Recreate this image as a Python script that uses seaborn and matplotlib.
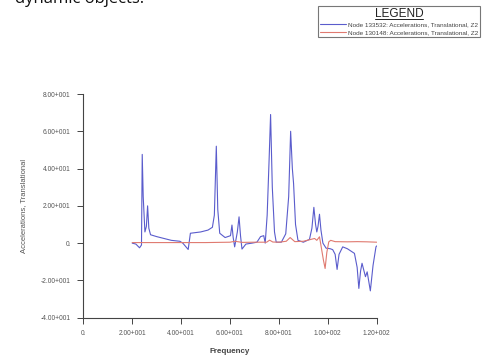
import matplotlib
matplotlib.use("Agg")
import matplotlib.pyplot as plt
import seaborn as sns
import pandas as pd
from matplotlib.lines import Line2D

# ---- data ----
blue_freq = [20, 21.5, 23, 23.8, 24.1, 24.5, 25.2, 25.8, 26.3, 26.8, 27.5, 30, 33, 36, 39.5,
             40.7, 42.9, 43.8, 45, 48, 51, 52.8, 53.6, 54.4, 55.0, 55.8, 58, 60.2, 60.8, 61.3,
             61.9, 63.0, 63.7, 64.3, 64.9, 66.5, 69, 71, 72.5, 73.8, 74.4, 75.2, 76.0, 76.6,
             77.3, 78.2, 78.9, 81, 82.8, 84.0, 84.8, 85.5, 86.0, 86.8, 87.8, 90, 92.5, 93.5,
             94.3, 95.0, 95.5, 96.0, 96.6, 97.2, 98, 99.3, 101, 102, 103.0, 103.8, 104.6, 106.1,
             108, 110.9, 112.0, 112.7, 113.4, 114, 115.4, 116.1, 117.4, 118.5, 119.7, 120]
blue_vals = [0.0, -0.05, -0.25, -0.1, 4.76, 2.5, 0.6, 0.9, 2.0, 0.8, 0.45, 0.35, 0.25, 0.15, 0.1,
             0.0, -0.34, 0.53, 0.55, 0.6, 0.7, 0.85, 1.5, 5.2, 1.8, 0.53, 0.3, 0.4, 0.97, 0.3,
             -0.2, 0.6, 1.41, 0.4, -0.32, -0.05, 0.0, 0.05, 0.35, 0.4, 0.0, 1.5, 4.5, 6.9,
             3.0, 0.6, 0.05, 0.05, 0.5, 2.5, 6.0, 4.0, 3.2, 1.0, 0.15, 0.05, 0.2, 0.8,
             1.92, 1.0, 0.6, 0.9, 1.55, 0.7, 0.0, -0.27, -0.3, -0.35, -0.6, -1.41, -0.6, -0.2,
             -0.3, -0.55, -1.3, -2.43, -1.5, -1.08, -1.8, -1.54, -2.56, -1.2, -0.2, -0.15]

red_freq = [20, 25, 30, 40, 50, 60, 62, 65, 70, 75, 76.2, 77.5, 80, 83, 84.6, 86.5, 90, 94.6,
            95.5, 96.6, 97.3, 98.2, 98.9, 99.6, 100.4, 101.2, 103, 108, 112, 116, 120]
red_vals = [0.03, 0.03, 0.03, 0.03, 0.03, 0.05, 0.1, 0.04, 0.05, 0.05, 0.16, 0.06, 0.05, 0.1,
            0.3, 0.08, 0.1, 0.25, 0.15, 0.34, -0.2, -0.9, -1.36, -0.5, 0.07, 0.15, 0.08, 0.07,
            0.08, 0.07, 0.05]

series_names = ["Node 133532: Accelerations, Translational, Z2",
                "Node 130148: Accelerations, Translational, Z2"]
x_ticks = [0, 20, 40, 60, 80, 100, 120]
x_tick_labels = ["0.", "2.00+001", "4.00+001", "6.00+001", "8.00+001", "1.00+002", "1.20+002"]
y_ticks = [-4, -2, 0, 2, 4, 6, 8]
y_tick_labels = ["-4.00+001", "-2.00+001", "0.", "2.00+001", "4.00+001", "6.00+001", "8.00+001"]

df = pd.concat([
    pd.DataFrame({"Frequency": blue_freq, "Value": blue_vals, "Series": series_names[0]}),
    pd.DataFrame({"Frequency": red_freq, "Value": red_vals, "Series": series_names[1]}),
])

sns.set_style("white")
plt.rcParams["font.family"] = ["Liberation Sans", "DejaVu Sans"]

fig = plt.figure(figsize=(4.92, 3.56), dpi=100)
ax = fig.add_axes([83.3 / 492, 1 - 317.7 / 356, (376.7 - 83.3) / 492, (317.7 - 94) / 356])

palette = {series_names[0]: "#5a5ccc", series_names[1]: "#e07a70"}
sns.lineplot(data=df, x="Frequency", y="Value", hue="Series", palette=palette,
             sort=False, estimator=None, linewidth=0.8, ax=ax, legend=False)

ax.set_xlim(0, 120)
ax.set_ylim(-4, 8)
ax.set_xticks(x_ticks)
ax.set_xticklabels(x_tick_labels)
ax.set_yticks(y_ticks)
ax.set_yticklabels(y_tick_labels)
for s in ["top", "right"]:
    ax.spines[s].set_visible(False)
for s in ["left", "bottom"]:
    ax.spines[s].set_color("#444444")
    ax.spines[s].set_linewidth(0.8)
ax.tick_params(axis="both", which="major", direction="out", length=4, width=0.7,
               color="#444444", labelsize=4.8, labelcolor="#555555", pad=5,
               left=True, bottom=True)
ax.set_xlabel("Frequency", fontsize=5.8, fontweight="bold", color="#444444", labelpad=8)
ax.set_ylabel("Accelerations, Translational", fontsize=5.5, color="#555555", labelpad=10)

# legend
handles = [Line2D([0], [0], color=palette[n], lw=0.8) for n in series_names]
leg = fig.legend(handles, series_names, loc="upper right",
                 bbox_to_anchor=(480 / 492, 1 - 6 / 356), fontsize=4.6,
                 title="LEGEND", title_fontsize=8.5, frameon=True, fancybox=False,
                 edgecolor="#555555", handlelength=4.0, handletextpad=0.3,
                 borderpad=0.35, labelspacing=0.3, borderaxespad=0)
leg.get_frame().set_linewidth(0.8)
leg.get_title().set_color("#222222")
for t in leg.get_texts():
    t.set_color("#444444")

# underline the legend title using its rendered extent
fig.canvas.draw()
bb = leg.get_title().get_window_extent().transformed(fig.transFigure.inverted())
fig.add_artist(Line2D([bb.x0, bb.x1], [bb.y0 + 0.004, bb.y0 + 0.004],
                      color="#222222", lw=0.7, zorder=10))

# clipped slide text at top
fig.text(15 / 492, 1 - 3 / 356, "dynamic objects.", fontsize=12, va="baseline",
         ha="left", color="#111111", family=["Open Sans", "DejaVu Sans"])

fig.savefig("out.png", dpi=100)
